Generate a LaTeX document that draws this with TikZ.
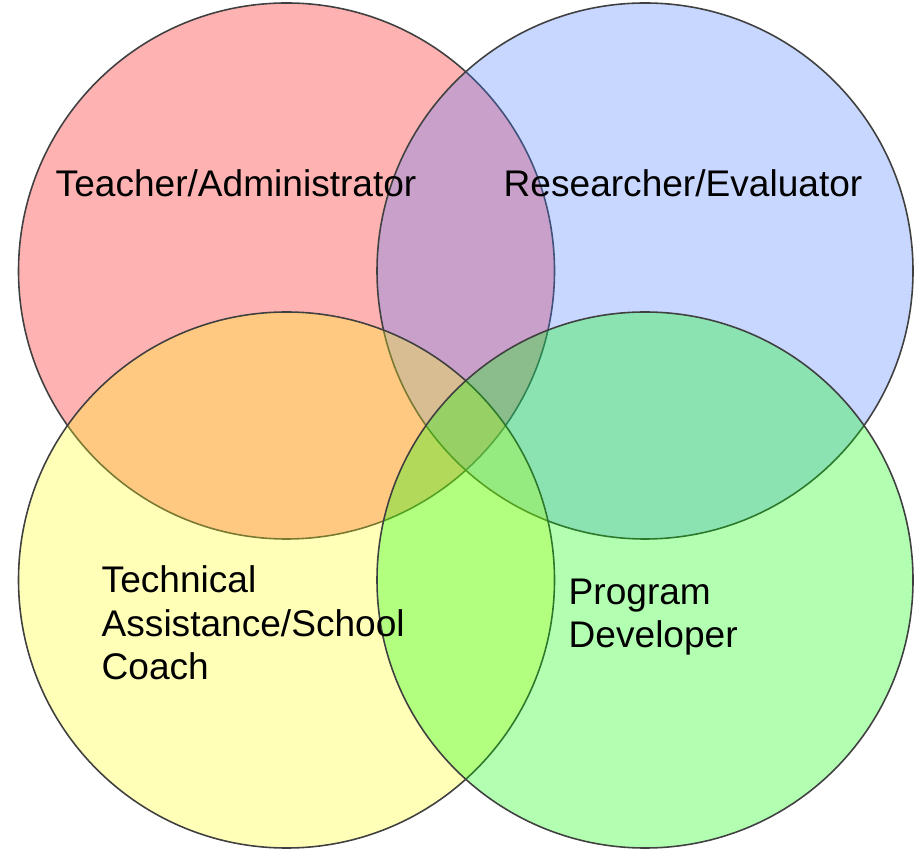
\documentclass[tikz,border=0pt]{standalone}
\usepackage{fontspec}
\setmainfont{Liberation Sans}
\begin{document}
\begin{tikzpicture}[
    ring/.style={draw=black!75, line width=0.45pt, fill opacity=0.3},
    label/.style={inner sep=0pt, anchor=base west, align=left,
        font=\fontsize{10.55}{12.5}\selectfont}]
    \useasboundingbox (0,0) rectangle (9.16,-8.5);
    \definecolor{teachred}{RGB}{255,0,0}
    \definecolor{researchblue}{RGB}{72,122,255}
    \definecolor{coachyellow}{RGB}{255,255,20}
    \definecolor{devgreen}{RGB}{0,255,0}

    \node[ring, fill=teachred, circle, minimum size=5.36cm] (T) at (2.865,-2.71) {};
    \node[ring, fill=researchblue, circle, minimum size=5.36cm] (R) at (6.45,-2.71) {};
    \node[ring, fill=coachyellow, circle, minimum size=5.36cm] (C) at (2.865,-5.80) {};
    \node[ring, fill=devgreen, circle, minimum size=5.36cm] (P) at (6.45,-5.80) {};

    \node[label] (tlabel) at (0.55,-1.97) {Teacher/Administrator};
    \node[label] (rlabel) at (5.03,-1.97) {Researcher/Evaluator};
    \node[label] (clabel) at (1.01,-6.80) {Technical\\Assistance/School\\Coach};
    \node[label] (plabel) at (5.68,-6.48) {Program\\Developer};
\end{tikzpicture}
\end{document}
